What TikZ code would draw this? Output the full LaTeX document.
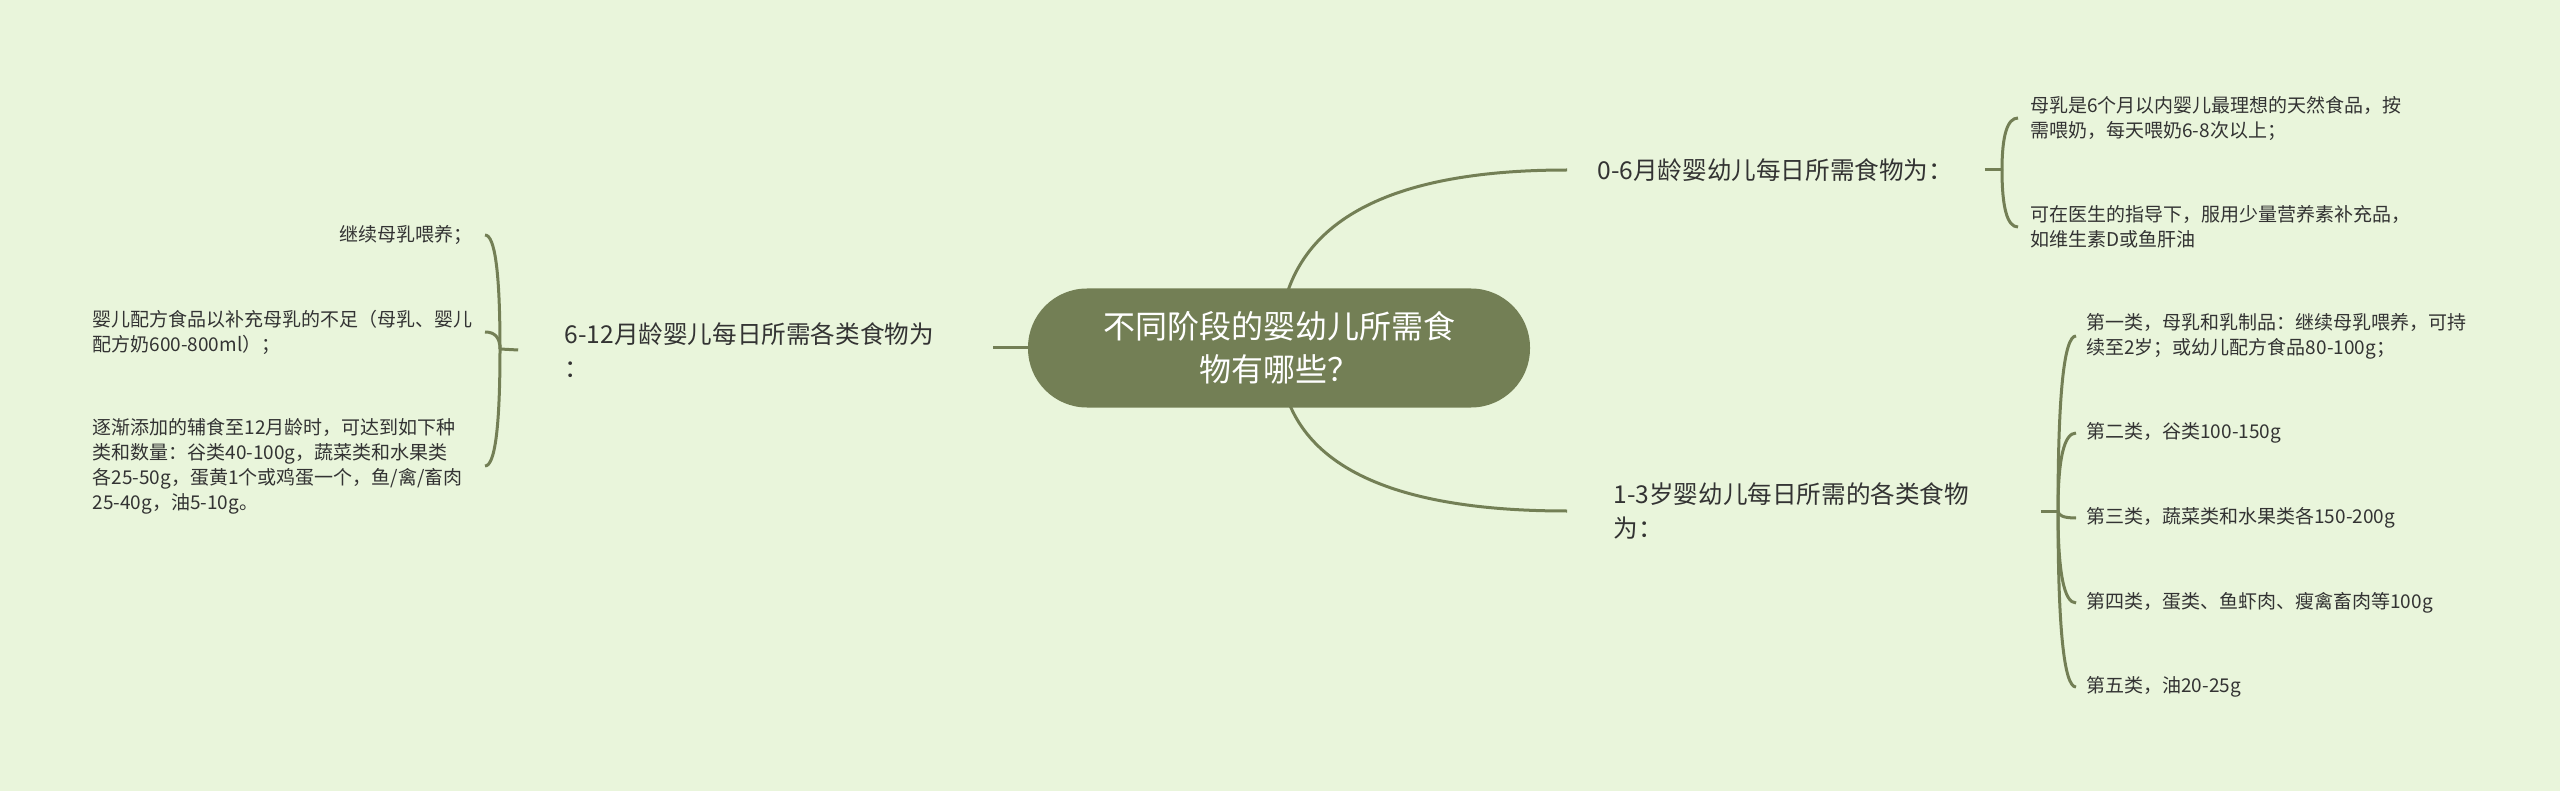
\documentclass[tikz,border=0pt]{standalone}
\usepackage{fontspec}
\setmainfont{Noto Sans CJK SC}
\usetikzlibrary{calc}
\definecolor{bgc}{HTML}{E9F5DB}
\definecolor{mapgreen}{HTML}{737F55}
\definecolor{txt}{HTML}{333333}
\tikzset{
  link/.style={draw=mapgreen, line width=1.5pt},
  topic/.style={fill=mapgreen, text=white, rounded corners=29.5pt, minimum width=251pt, minimum height=59.5pt, align=center, font=\fontsize{16pt}{21.5pt}\selectfont},
  branch/.style={text=txt, align=left, inner xsep=23pt, font=\fontsize{12.3pt}{17pt}\selectfont},
  leaf/.style={text=txt, align=left, inner xsep=6pt, font=\fontsize{9.5pt}{12.5pt}\selectfont}
}
\begin{document}
\begin{tikzpicture}[x=0.5pt, y=-0.5pt]
        \useasboundingbox (0,0) rectangle (2560,791);
        \fill[bgc] (0,0) rectangle (2560,791);
        \coordinate (c) at (1279,348);
        \node[branch, anchor=west, inner xsep=15pt, text width=178.5pt] (b1) at (1567,170) {0-6月龄婴幼儿每日所需食物为：};
        \node[branch, anchor=west, text width=190.5pt] (b2) at (1567,511) {1-3岁婴幼儿每日所需的各类食物\\为：};
        \node[branch, anchor=east, text width=191pt] (b3) at (993,350) {6-12月龄婴儿每日所需各类食物为\\：};
        \node[leaf, anchor=west] (a1) at (2018,118) {母乳是6个月以内婴儿最理想的天然食品，按\\需喂奶，每天喂奶6-8次以上；};
        \node[leaf, anchor=west] (a2) at (2018,227) {可在医生的指导下，服用少量营养素补充品，\\如维生素D或鱼肝油};
        \node[leaf, anchor=west, inner xsep=5pt] (d1) at (2076,336) {第一类，母乳和乳制品：继续母乳喂养，可持\\续至2岁；或幼儿配方食品80-100g；};
        \node[leaf, anchor=west, inner xsep=5pt] (d2) at (2076,433) {第二类，谷类100-150g};
        \node[leaf, anchor=west, inner xsep=5pt] (d3) at (2076,518) {第三类，蔬菜类和水果类各150-200g};
        \node[leaf, anchor=west, inner xsep=5pt] (d4) at (2076,603) {第四类，蛋类、鱼虾肉、瘦禽畜肉等100g};
        \node[leaf, anchor=west, inner xsep=5pt] (d5) at (2076,687) {第五类，油20-25g};
        \node[leaf, anchor=east] (e1) at (485,235) {继续母乳喂养；};
        \node[leaf, anchor=east, text width=190pt] (e2) at (485,332) {婴儿配方食品以补充母乳的不足（母乳、婴儿\\配方奶600-800ml）；};
        \node[leaf, anchor=east, text width=190pt] (e3) at (485,466) {逐渐添加的辅食至12月龄时，可达到如下种\\类和数量：谷类40-100g，蔬菜类和水果类\\各25-50g，蛋黄1个或鸡蛋一个，鱼/禽/畜肉\\25-40g，油5-10g。};
        \coordinate (f1) at (2002,170);
        \coordinate (f2) at (2058,511);
        \coordinate (f3) at (500,349);
        \draw[link] (b1.east) -- (f1);
        \draw[link] (b2.east) -- (f2);
        \draw[link] (b3.west) -- (f3);
        \foreach \l in {a1,a2}
        {
                \draw[link] (f1) .. controls ($(f1)!0.667!(f1|-\l.west)$) and ($(\l.west)!0.667!(f1|-\l.west)$) .. (\l.west);
        }
        \foreach \l in {d1,d2,d3,d4,d5}
        {
                \draw[link] (f2) .. controls ($(f2)!0.667!(f2|-\l.west)$) and ($(\l.west)!0.667!(f2|-\l.west)$) .. (\l.west);
        }
        \foreach \l in {e1,e2,e3}
        {
                \draw[link] (f3) .. controls ($(f3)!0.667!(f3|-\l.east)$) and ($(\l.east)!0.667!(f3|-\l.east)$) .. (\l.east);
        }
        \foreach \b in {b1,b2}
        {
                \draw[link] (c) .. controls ($(c)!0.667!(c|-\b.west)$) and ($(\b.west)!0.667!(c|-\b.west)$) .. (\b.west);
        }
        \draw[link] (c) -- (c-|b3.east);
        \node[topic] (root) at (c) {不同阶段的婴幼儿所需食\\物有哪些？};
\end{tikzpicture}
\end{document}
